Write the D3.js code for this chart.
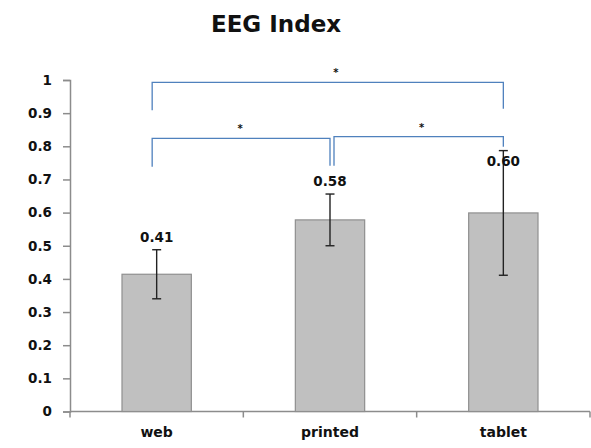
<!DOCTYPE html>
<html>
<head>
<meta charset="utf-8">
<script src="https://cdn.jsdelivr.net/npm/d3@7/dist/d3.min.js"></script>
<style>
  html, body { margin: 0; padding: 0; background: #fff; }
  svg { display: block; }
  text { font-family: "DejaVu Sans", Verdana, sans-serif; font-weight: bold; fill: #111; }
</style>
</head>
<body>
<svg id="chart" width="591" height="448"></svg>
<script>
// EEG index per reading medium: mean and error (±)
const categories = ["web", "printed", "tablet"];
const means = [0.414, 0.578, 0.599];
const errors = [0.074, 0.078, 0.188];
const valueLabels = ["0.41", "0.58", "0.60"];
const yTicks = [0, 0.1, 0.2, 0.3, 0.4, 0.5, 0.6, 0.7, 0.8, 0.9, 1];

// Significance comparisons: [from index, to index], bar height, leg bottoms
const comparisonPairs = [[0, 2], [0, 1], [1, 2]];
const comparisonLevels = [0.993, 0.824, 0.829];
const comparisonLegEnds = [[0.909, 0.913], [0.738, 0.741], [0.741, 0.799]];
const comparisonMarks = ["*", "*", "*"];

const svg = d3.select("#chart");
const margin = { left: 70, right: 1, top: 80, bottom: 36.5 };
const W = 591, H = 448;

const x = d3.scaleBand()
  .domain(categories)
  .range([margin.left, W - margin.right])
  .paddingInner(0.6)
  .paddingOuter(0.3);

const y = d3.scaleLinear()
  .domain([0, 1])
  .range([H - margin.bottom, margin.top]);

const step = x.step();
const center = c => x(c) + x.bandwidth() / 2;

// Title
svg.append("text")
  .attr("x", 276).attr("y", 32)
  .attr("text-anchor", "middle")
  .style("font-size", "23px")
  .text("EEG Index");

// Y axis
const yAxis = svg.append("g")
  .attr("transform", `translate(${margin.left},0)`)
  .call(d3.axisLeft(y).tickValues(yTicks).tickFormat(d => d3.format("")(+d.toFixed(1))).tickSize(7).tickPadding(11));
yAxis.select(".domain").attr("stroke", "#8c8c8c").attr("stroke-width", 1.5);
yAxis.selectAll(".tick line").attr("stroke", "#8c8c8c").attr("stroke-width", 1.5);
yAxis.selectAll(".tick text").style("font-size", "13.5px").attr("fill", "#111").style("font-family", "'DejaVu Sans', sans-serif").style("font-weight", "bold");

// X axis baseline with category boundary ticks
const xAxisG = svg.append("g");
xAxisG.append("line")
  .attr("x1", margin.left).attr("x2", W - margin.right)
  .attr("y1", y(0)).attr("y2", y(0))
  .attr("stroke", "#8c8c8c").attr("stroke-width", 1.5);
const boundaries = d3.range(categories.length + 1).map(i => margin.left + i * step);
xAxisG.selectAll("line.bt").data(boundaries).join("line")
  .attr("class", "bt")
  .attr("x1", d => d).attr("x2", d => d)
  .attr("y1", y(0)).attr("y2", y(0) + 6)
  .attr("stroke", "#8c8c8c").attr("stroke-width", 1.5);
xAxisG.selectAll("text.cat").data(categories).join("text")
  .attr("class", "cat")
  .attr("x", d => center(d))
  .attr("y", y(0) + 25)
  .attr("text-anchor", "middle")
  .style("font-size", "14px")
  .text(d => d);

// Bars
svg.selectAll("rect.bar").data(categories).join("rect")
  .attr("class", "bar")
  .attr("x", d => x(d))
  .attr("width", x.bandwidth())
  .attr("y", (d, i) => y(means[i]))
  .attr("height", (d, i) => y(0) - y(means[i]))
  .attr("fill", "#c0c0c0")
  .attr("stroke", "#8f8f8f")
  .attr("stroke-width", 1.2);

// Error bars
const capHalf = 4.5;
const eb = svg.selectAll("g.err").data(categories).join("g").attr("class", "err");
eb.append("line")
  .attr("x1", d => center(d)).attr("x2", d => center(d))
  .attr("y1", (d, i) => y(means[i] + errors[i]))
  .attr("y2", (d, i) => y(means[i] - errors[i]));
eb.append("line")
  .attr("x1", d => center(d) - capHalf).attr("x2", d => center(d) + capHalf)
  .attr("y1", (d, i) => y(means[i] + errors[i])).attr("y2", (d, i) => y(means[i] + errors[i]));
eb.append("line")
  .attr("x1", d => center(d) - capHalf).attr("x2", d => center(d) + capHalf)
  .attr("y1", (d, i) => y(means[i] - errors[i])).attr("y2", (d, i) => y(means[i] - errors[i]));
eb.selectAll("line").attr("stroke", "#222").attr("stroke-width", 1.4);

// Value labels (lifted above each bar)
const labelLift = [32, 34, 47];
svg.selectAll("text.val").data(categories).join("text")
  .attr("class", "val")
  .attr("x", d => center(d))
  .attr("y", (d, i) => y(means[i]) - labelLift[i])
  .attr("text-anchor", "middle")
  .style("font-size", "13.5px")
  .text((d, i) => valueLabels[i]);

// Significance brackets
const legInset = [[-4.5, 0], [-4.5, 0], [4, 0]];
const markShift = [8, -1, 3];
const br = svg.selectAll("g.sig").data(comparisonPairs).join("g").attr("class", "sig");
br.append("path")
  .attr("d", (p, i) => {
    const x1 = center(categories[p[0]]) + legInset[i][0];
    const x2 = center(categories[p[1]]) + legInset[i][1];
    const yl = y(comparisonLevels[i]);
    return `M${x1},${y(comparisonLegEnds[i][0])}V${yl}H${x2}V${y(comparisonLegEnds[i][1])}`;
  })
  .attr("fill", "none")
  .attr("stroke", "#4f81bd")
  .attr("stroke-width", 1.3);
br.append("text")
  .attr("x", (p, i) => (center(categories[p[0]]) + legInset[i][0] + center(categories[p[1]])) / 2 + markShift[i])
  .attr("y", (p, i) => y(comparisonLevels[i]) - 6)
  .attr("text-anchor", "middle")
  .style("font-size", "10px")
  .style("font-weight", "bold")
  .attr("fill", "#4a4036")
  .text((p, i) => comparisonMarks[i]);
</script>
</body>
</html>
